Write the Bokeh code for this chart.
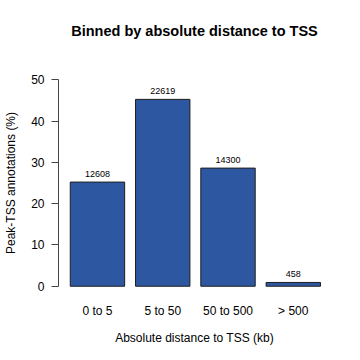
from bokeh.plotting import figure
from bokeh.models import Range1d, FixedTicker, ColumnDataSource, Title
from bokeh.embed import file_html
from bokeh.resources import INLINE

title_text = "Binned by absolute distance to TSS"
categories = ["0 to 5", "5 to 50", "50 to 500", "> 500"]
counts = [12608, 22619, 14300, 458]
y_ticks = [0, 10, 20, 30, 40, 50]

total = sum(counts)
percent = [c / total * 100 for c in counts]
# R barplot layout: width 1, space 0.2
centers = [0.2 + 1.2 * i + 0.5 for i in range(len(categories))]

src = ColumnDataSource(dict(x=centers, top=percent, label=[str(c) for c in counts]))

FONT = "Liberation Sans"
p = figure(width=360, height=360, output_backend="svg", toolbar_location=None,
           x_range=Range1d(-0.016, 4.984), y_range=Range1d(-2, 52),
           min_border_left=58, min_border_right=30, min_border_top=71, min_border_bottom=66)
p.outline_line_color = None
p.xgrid.visible = False
p.ygrid.visible = False
p.background_fill_color = "white"
p.border_fill_color = "white"

# spacer (closest to the frame) then the real title above it
p.add_layout(Title(text=" ", text_font=FONT, text_font_size="12px", standoff=17,
                   text_color="white"), "above")
p.add_layout(Title(text=title_text, text_font=FONT, text_font_size="14.5px",
                   text_font_style="bold", align="center", text_color="#000000",
                   standoff=0), "above")

p.vbar(x="x", top="top", bottom=0, width=1.0, source=src,
       fill_color="#2D57A0", line_color="#1f1f1f", line_width=1)
p.text(x="x", y="top", text="label", source=src, text_align="center",
       text_baseline="bottom", y_offset=-5, text_font_size="9px",
       text_font={"value": FONT}, text_color="#000000")

xa = p.xaxis[0]
xa.ticker = FixedTicker(ticks=centers)
xa.major_label_overrides = {c: lab for c, lab in zip(centers, categories)}
xa.axis_line_color = None
xa.major_tick_line_color = None
xa.major_tick_out = 0
xa.major_tick_in = 0
xa.minor_tick_line_color = None
xa.minor_tick_out = 0
xa.major_label_standoff = 9
xa.major_label_text_font = FONT
xa.major_label_text_font_size = "12px"
xa.major_label_text_color = "#000000"
xa.axis_label = "Absolute distance to TSS (kb)"
xa.axis_label_text_font = FONT
xa.axis_label_text_font_size = "12px"
xa.axis_label_text_font_style = "normal"
xa.axis_label_text_color = "#000000"
xa.axis_label_standoff = 10

ya = p.yaxis[0]
ya.ticker = FixedTicker(ticks=y_ticks)
ya.bounds = (0, 50)
ya.axis_line_color = "#444444"
ya.major_tick_line_color = "#444444"
ya.minor_tick_line_color = None
ya.minor_tick_out = 0
ya.major_tick_out = 7
ya.major_tick_in = 0
ya.major_label_standoff = 7
ya.major_label_orientation = "horizontal"
ya.major_label_text_font = FONT
ya.major_label_text_font_size = "12px"
ya.major_label_text_color = "#000000"
ya.axis_label = "Peak-TSS annotations (%)"
ya.axis_label_text_font = FONT
ya.axis_label_text_font_size = "12px"
ya.axis_label_text_font_style = "normal"
ya.axis_label_text_color = "#000000"
ya.axis_label_standoff = 10

open("out.html", "w").write(file_html(p, INLINE))
